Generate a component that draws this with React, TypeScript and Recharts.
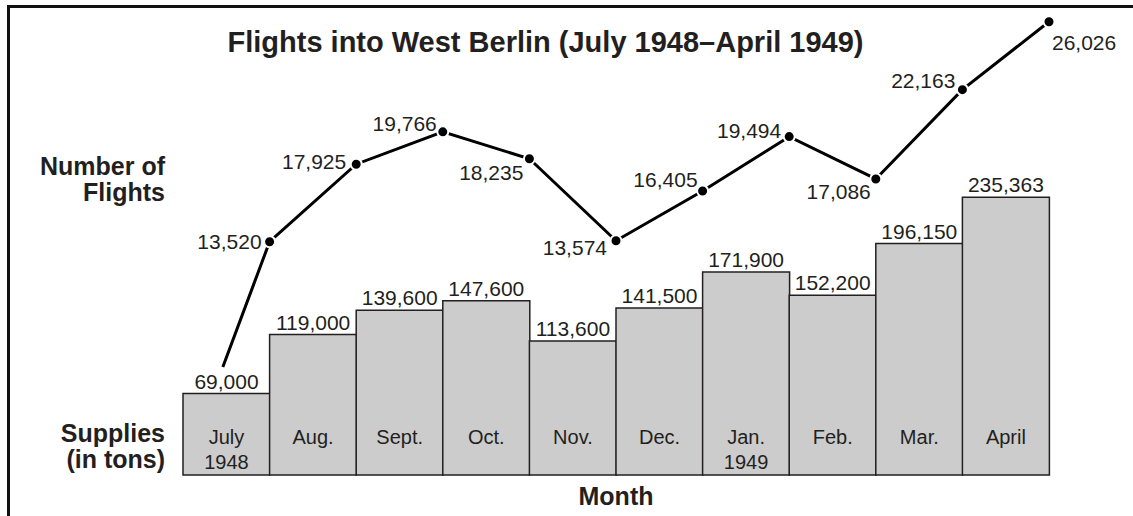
import React from 'react';
import { ComposedChart, Bar, Line, XAxis, YAxis, LabelList } from 'recharts';

// months along the bottom, year shown under first month of each year
const months = ['July', 'Aug.', 'Sept.', 'Oct.', 'Nov.', 'Dec.', 'Jan.', 'Feb.', 'Mar.', 'April'];
const years = ['1948', '', '', '', '', '', '1949', '', '', ''];

// supplies delivered (tons) per month
const supplies = [69000, 119000, 139600, 147600, 113600, 141500, 171900, 152200, 196150, 235363];

// number of flights, plotted at the end of each month
const flights = [13520, 17925, 19766, 18235, 13574, 16405, 19494, 17086, 22163, 26026];

// the drawn line starts mid-July at roughly this level (no marker)
const lineStartPos = 0.46;
const lineStartFlights = 6400;

const INK = '#231f20';
const FONT = '"Liberation Sans", Arial, Helvetica, sans-serif';

// label nudges for the flight values [dx, dy, anchor]
const flightLabelOffsets: [number, number, string][] = [
  [-8, 0, 'end'],
  [-10, -3, 'end'],
  [-6, -8, 'end'],
  [-6, 14, 'end'],
  [-9, 7, 'end'],
  [-5, -11, 'end'],
  [-8, -6, 'end'],
  [-5, 13, 'end'],
  [-7, -9, 'end'],
  [3, 21, 'start'],
];

const barData = months.map((m, i) => ({ month: m, tons: supplies[i] }));
const lineData = [
  { pos: lineStartPos, flights: lineStartFlights, start: true },
  ...flights.map((f, i) => ({ pos: i + 1, flights: f, start: false })),
];

const fmt = (v: number) => v.toLocaleString('en-US');

const MonthLabel = (props: any) => {
  const vb = props.viewBox || props;
  const idx = months.indexOf(props.value);
  const cx = vb.x + vb.width / 2;
  const bottom = vb.y + vb.height;
  return (
    <text textAnchor="middle" fontSize={20} fill={INK} fontFamily={FONT}>
      <tspan x={cx} y={bottom - 31}>{props.value}</tspan>
      {years[idx] ? <tspan x={cx} y={bottom - 6}>{years[idx]}</tspan> : null}
    </text>
  );
};

const FlightLabel = (props: any) => {
  const idx = flights.indexOf(props.value);
  if (idx < 0) return null;
  const x = props.x ?? props.viewBox?.x;
  const y = props.y ?? props.viewBox?.y;
  const [dx, dy, anchor] = flightLabelOffsets[idx];
  return (
    <text x={x + dx} y={y + dy} textAnchor={anchor as any} dominantBaseline="central" fontSize={21} fill={INK} fontFamily={FONT}>
      {fmt(props.value)}
    </text>
  );
};

const FlightDot = (props: any) => {
  const { cx, cy, payload, index } = props;
  if (payload.start) return <g key={`d${index}`} />;
  return <circle key={`d${index}`} cx={cx} cy={cy} r={5.5} fill="#000" stroke="#fff" strokeWidth={2} />;
};

const sideLabel: React.CSSProperties = {
  position: 'absolute',
  right: 1133 - 165,
  fontWeight: 'bold',
  fontSize: 25,
  lineHeight: '26px',
  textAlign: 'right',
  whiteSpace: 'nowrap',
};

export default function App() {
  return (
    <div
      style={{
        position: 'absolute',
        left: 0,
        top: 0,
        width: 1133,
        height: 516,
        overflow: 'hidden',
        background: '#fff',
        fontFamily: FONT,
        color: INK,
      }}
    >
      <div
        style={{
          position: 'absolute',
          left: 7,
          top: 5,
          width: 1200,
          height: 600,
          border: '3px solid #111',
          boxSizing: 'border-box',
        }}
      />
      <ComposedChart
        width={1133}
        height={516}
        data={barData}
        margin={{ top: 10, right: 84, bottom: 41, left: 183 }}
        barCategoryGap={0}
        style={{ position: 'absolute', left: 0, top: 0 }}
      >
        <XAxis xAxisId="cat" dataKey="month" hide />
        <XAxis xAxisId="pos" dataKey="pos" type="number" domain={[0, 10]} hide />
        <YAxis yAxisId="tons" domain={[0, 394000]} hide />
        <YAxis yAxisId="flights" domain={[258, 26691]} hide />
        <Bar
          xAxisId="cat"
          yAxisId="tons"
          dataKey="tons"
          fill="#cccccc"
          stroke={INK}
          strokeWidth={1.5}
          isAnimationActive={false}
        >
          <LabelList dataKey="tons" position="top" offset={5} formatter={(v: any) => fmt(v)} fontSize={21} fill={INK} fontFamily={FONT} />
          <LabelList dataKey="month" content={MonthLabel} />
        </Bar>
        <Line
          xAxisId="pos"
          yAxisId="flights"
          data={lineData}
          dataKey="flights"
          type="linear"
          stroke="#000"
          strokeWidth={3}
          dot={FlightDot}
          activeDot={false}
          isAnimationActive={false}
        >
          <LabelList dataKey="flights" content={FlightLabel} />
        </Line>
      </ComposedChart>
      <div
        style={{
          position: 'absolute',
          left: 0,
          width: 1091,
          top: 28,
          textAlign: 'center',
          fontWeight: 'bold',
          fontSize: 29,
          lineHeight: '29px',
          whiteSpace: 'nowrap',
        }}
      >
        Flights into West Berlin (July 1948–April 1949)
      </div>
      <div style={{ ...sideLabel, top: 153 }}>
        Number of
        <br />
        Flights
      </div>
      <div style={{ ...sideLabel, top: 420 }}>
        Supplies
        <br />
        (in tons)
      </div>
      <div
        style={{
          position: 'absolute',
          left: 183,
          width: 866,
          top: 484,
          textAlign: 'center',
          fontWeight: 'bold',
          fontSize: 25,
          lineHeight: '25px',
        }}
      >
        Month
      </div>
    </div>
  );
}
